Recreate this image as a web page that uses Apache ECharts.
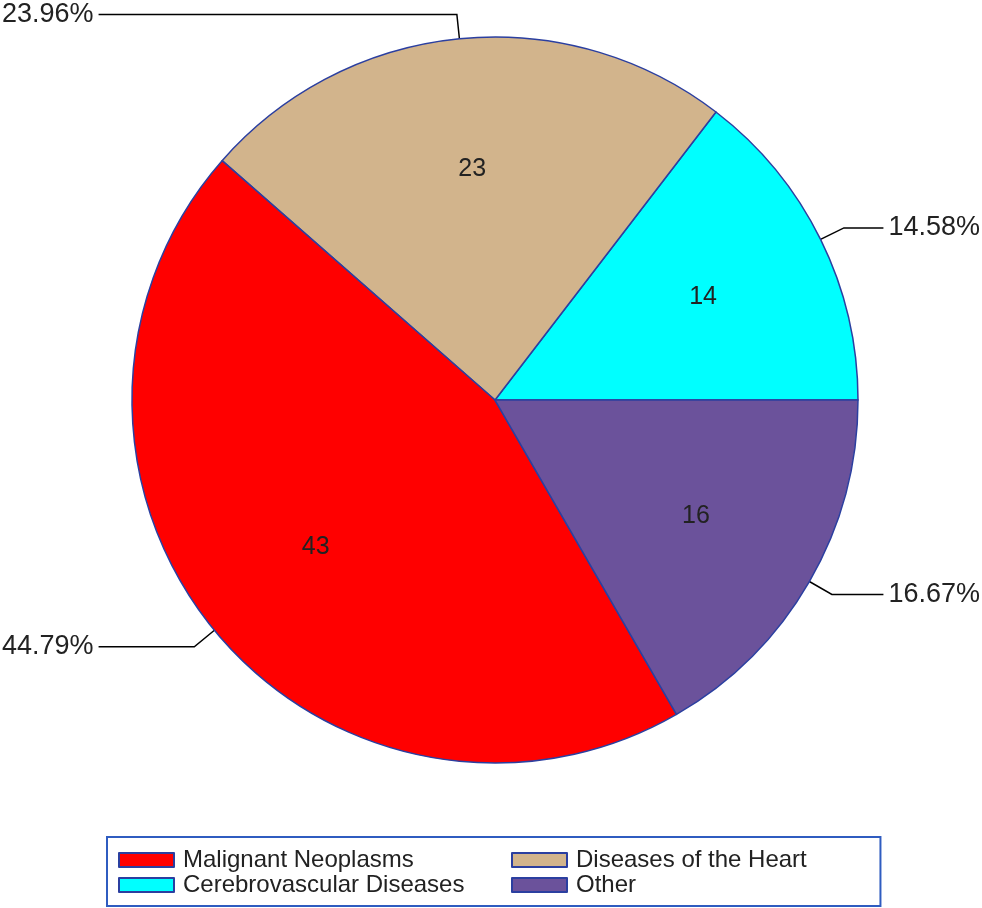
<!DOCTYPE html>
<html>
<head>
<meta charset="utf-8">
<script src="https://cdn.jsdelivr.net/npm/echarts@6/dist/echarts.min.js"></script>
<style>
  html, body { margin: 0; padding: 0; background: #fff; }
  #chart { width: 982px; height: 908px; }
</style>
</head>
<body>
<div id="chart"></div>
<script>
// slices listed counter-clockwise, starting at 3 o'clock
const causes = ['Cerebrovascular Diseases', 'Diseases of the Heart', 'Malignant Neoplasms', 'Other'];
const deaths = [14, 23, 43, 16];
const sliceColors = ['#00FFFF', '#D2B48C', '#FF0000', '#6B529B'];
// the legend is two columns
const legendLeftCol = ['Malignant Neoplasms', 'Cerebrovascular Diseases'];
const legendRightCol = ['Diseases of the Heart', 'Other'];

const font = '"Liberation Sans", Arial, sans-serif';
const chart = echarts.init(document.getElementById('chart'));
const pieData = causes.map((name, i) => ({ name: name, value: deaths[i] }));

const legendBase = {
  orient: 'vertical',
  icon: 'rect',
  itemWidth: 55,
  itemHeight: 14,
  itemGap: 1,
  selectedMode: false,
  textStyle: { fontFamily: font, fontSize: 24, color: '#222', padding: [0, 0, 0, 4] }
};

chart.setOption({
  animation: false,
  color: sliceColors,
  legend: [
    {
      ...legendBase,
      left: 107,
      top: 837,
      // wide right padding so this legend's frame encloses both columns
      padding: [11, 416, 9, 11],
      borderColor: '#2f5cc0',
      borderWidth: 2,
      data: legendLeftCol
    },
    {
      ...legendBase,
      left: 511,
      top: 848,
      padding: 0,
      data: legendRightCol
    }
  ],
  series: [
    {
      type: 'pie',
      center: [495, 400],
      radius: 363,
      startAngle: 0,
      clockwise: false,
      avoidLabelOverlap: true,
      itemStyle: { borderColor: '#2b3fa0', borderWidth: 1.5 },
      emphasis: { disabled: true },
      label: {
        show: true,
        position: 'outside',
        alignTo: 'edge',
        edgeDistance: 2,
        distanceToLabelLine: 5,
        formatter: '{d}%',
        fontFamily: font,
        fontSize: 27,
        color: '#222'
      },
      labelLine: {
        show: true,
        length: 26,
        length2: 10,
        lineStyle: { color: '#000', width: 1.5 }
      },
      data: pieData
    },
    {
      // invisible copy, only to place the counts around 63% of the radius
      type: 'pie',
      center: [495, 400],
      radius: [0, 458],
      startAngle: 0,
      clockwise: false,
      silent: true,
      itemStyle: { color: 'rgba(0,0,0,0)', borderWidth: 0 },
      label: {
        show: true,
        position: 'inside',
        formatter: '{c}',
        fontFamily: font,
        fontSize: 25,
        color: '#222'
      },
      labelLine: { show: false },
      data: pieData
    }
  ]
});
</script>
</body>
</html>
